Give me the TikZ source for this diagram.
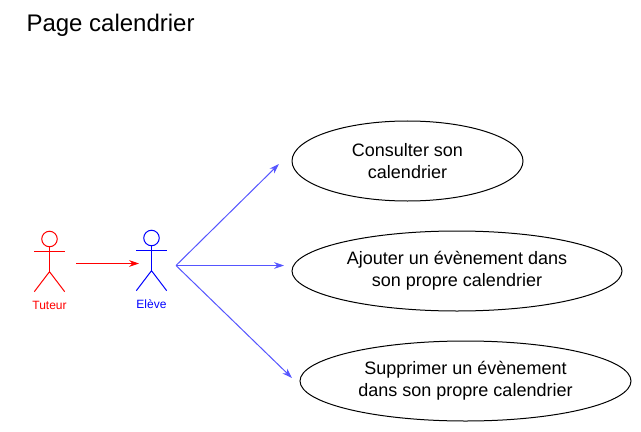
\documentclass[tikz,border=0pt]{standalone}
\usepackage{fontspec}
\setmainfont{Liberation Sans}
\def\px{0.75pt}
\definecolor{lineblue}{HTML}{5555FF}
\usetikzlibrary{shapes.geometric,arrows.meta}

\begin{document}
\begin{tikzpicture}[x=0.75pt,y=-0.75pt,line width=0.75pt]
	\tikzstyle{usecase}=[ellipse,draw=black,inner sep=0pt,minimum height=80*\px,align=center,font=\fontsize{13.5}{16.5}\selectfont]
	\tikzstyle{head}=[circle,draw,fill=white,inner sep=0pt,minimum size=15.5*\px]
	\tikzstyle{actor label}=[inner sep=0pt,font=\fontsize{9}{11}\selectfont]
	\tikzstyle{link}=[-{Stealth[length=7.5pt,width=5pt]}]

	\useasboundingbox (0,0) rectangle (641,431);

	\node[anchor=west,inner sep=0pt,font=\fontsize{18}{22}\selectfont] (title) at (26,25) {Page calendrier};

	% Draw the two actors
	\foreach \name/\x/\y/\col/\txt in {tuteur/49.5/239/red/Tuteur,eleve/151.5/238/blue/Elève} {
		\node[head,draw=\col] (head-\name) at (\x,\y) {};
		\coordinate (hip-\name) at (\x,\y+32.7);
		\draw[\col] (head-\name) -- (hip-\name);
		\draw[\col] (\x-15.2,\y+12.3) -- (\x+15.2,\y+12.3);
		\draw[\col] (\x-15.2,\y+52.7) -- (hip-\name) -- (\x+15.2,\y+52.7);
		\node[actor label,text=\col] (label-\name) at (\x,\y+66) {\txt};
	}

	% Draw the use cases
	\node[usecase,minimum width=231*\px] (consult) at (407.5,161) {Consulter son\\calendrier};
	\node[usecase,minimum width=330*\px] (add) at (457,271) {Ajouter un évènement dans\\son propre calendrier};
	\node[usecase,minimum width=331*\px] (remove) at (465.5,381) {Supprimer un évènement\\dans son propre calendrier};

	% Free ends of the arrows
	\coordinate (from-tuteur) at (76,263.5);
	\coordinate (to-eleve) at (139,263.5);
	\coordinate (from-eleve) at (176,265.5);
	\coordinate (to-consult) at (279,164);
	\coordinate (to-add) at (284,265.5);
	\coordinate (to-remove) at (292,378);

	\draw[link,red] (from-tuteur) -- (to-eleve);
	\foreach \dest in {consult,add,remove}
	\draw[link,lineblue] (from-eleve) -- (to-\dest);
\end{tikzpicture}
\end{document}
